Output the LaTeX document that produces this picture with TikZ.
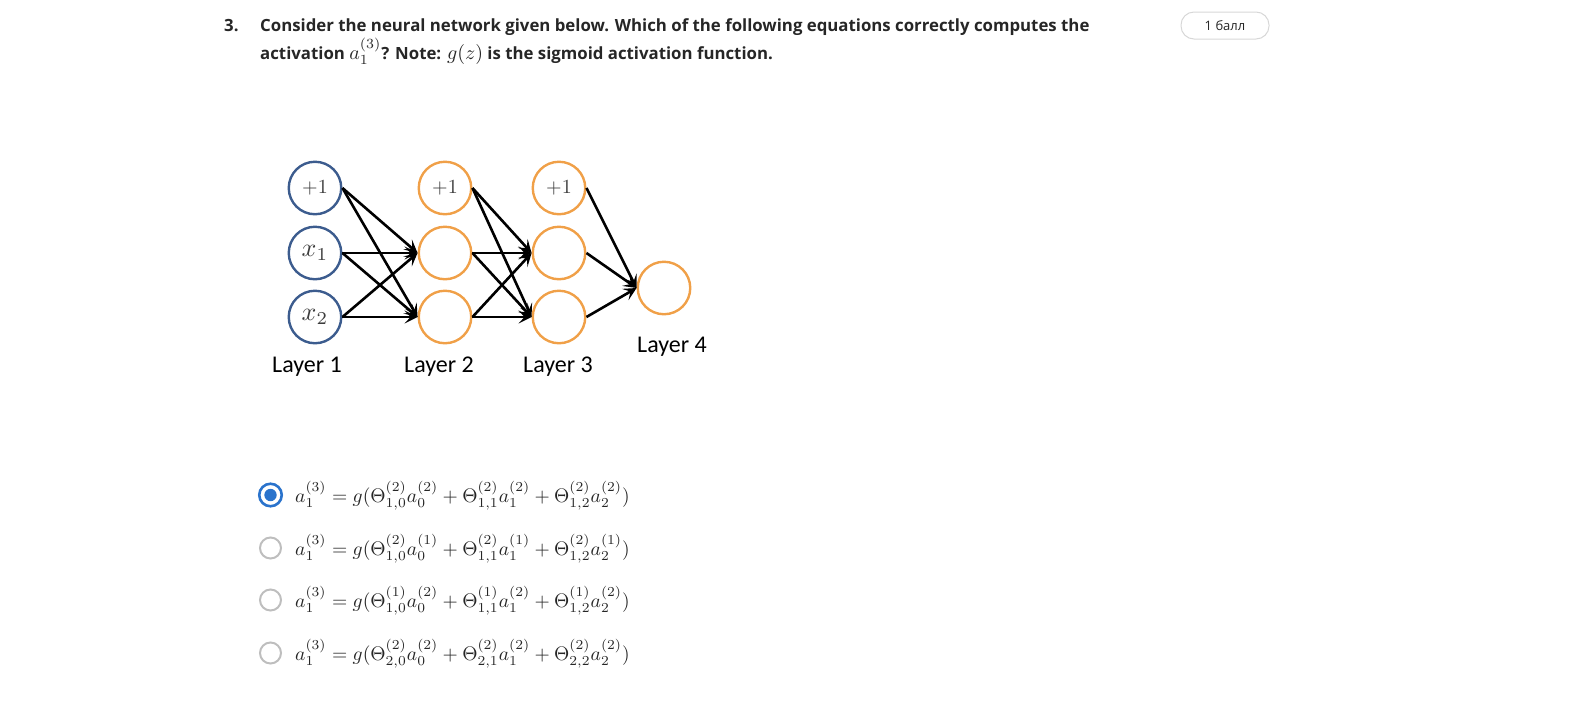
\documentclass[tikz,border=0pt]{standalone}
\usepackage{amsmath}
\usepackage{graphicx}
\usepackage{fontspec}
\setmainfont{Open Sans}
\newfontfamily\layerfont{Carlito}
\usetikzlibrary{arrows.meta,positioning}

\definecolor{inkgray}{RGB}{38,38,38}
\definecolor{netblue}{RGB}{60,92,142}
\definecolor{netorange}{RGB}{240,160,72}
\definecolor{nodetext}{RGB}{60,60,60}
\definecolor{radioblue}{RGB}{42,115,204}
\definecolor{radiogray}{RGB}{190,190,190}
\definecolor{pillgray}{RGB}{215,215,215}

% math at 10pt, scaled by #1
\newcommand{\mathat}[2]{\scalebox{#1}{\fontsize{10}{12}\selectfont$#2$}}

\begin{document}
\begin{tikzpicture}[x=1pt,y=-1pt,
    neuron/.style={draw,circle,line width=2.4pt,minimum size=52.5pt,inner sep=0pt,text=nodetext},
    inneuron/.style={neuron,draw=netblue},
    hidneuron/.style={neuron,draw=netorange},
    wire/.style={-{Stealth[length=13pt,width=13pt,inset=6pt]},line width=2.6pt},
    layerlab/.style={font=\layerfont\fontsize{24}{24}\selectfont,text=black},
    question/.style={anchor=base west,inner sep=0pt,text=inkgray,
      font=\bfseries\fontsize{16.8}{16.8}\selectfont},
    radiooff/.style={draw=radiogray,circle,line width=2pt,minimum size=21pt,inner sep=0pt},
    radioon/.style={draw=radioblue,circle,line width=2.6pt,minimum size=22.5pt,inner sep=0pt},
    answer/.style={anchor=base west,inner sep=0pt,text=inkgray}]
\useasboundingbox (0,0) rectangle (1572,705);

% question text
\node[question] (qnum) at (224,31.5) {3.};
\node[question] (qline1) at (260,31.5) {Consider the neural network given below. Which of the following equations correctly computes the};
\node[question] (qline2) at (260,59) {activation \mathat{2.0}{a_1^{(3)}}? Note: \mathat{2.0}{g(z)} is the sigmoid activation function.};
\node[draw=pillgray,line width=1pt,rounded corners=13pt,minimum width=88pt,minimum height=27pt,
  text=inkgray,font=\fontsize{13}{13}\selectfont] (points) at (1225,25.5) {1 балл};

% network
\node[inneuron] (b1) at (315,188) {\mathat{2.0}{+1}};
\node[inneuron] (x1) at (315,253) {\mathat{2.6}{x_1}};
\node[inneuron] (x2) at (315,317) {\mathat{2.6}{x_2}};
\node[hidneuron] (b2) at (445,188) {\mathat{2.0}{+1}};
\node[hidneuron] (h21) at (445,253) {};
\node[hidneuron] (h22) at (445,317) {};
\node[hidneuron] (b3) at (559,188) {\mathat{2.0}{+1}};
\node[hidneuron] (h31) at (559,253) {};
\node[hidneuron] (h32) at (559,317) {};
\node[hidneuron] (out) at (664,288) {};

\foreach \s in {b1,x1,x2}
  \foreach \t in {h21,h22}
    \draw[wire] (\s.east) -- (\t.west);
\foreach \s in {b2,h21,h22}
  \foreach \t in {h31,h32}
    \draw[wire] (\s.east) -- (\t.west);
\foreach \s in {b3,h31,h32}
  \draw[wire] (\s.east) -- (out.west);

\node[layerlab,anchor=base] (lay1) at (307,372) {Layer 1};
\node[layerlab,anchor=base] (lay2) at (439,372) {Layer 2};
\node[layerlab,anchor=base] (lay3) at (558,372) {Layer 3};
\node[layerlab,anchor=base] (lay4) at (672,352) {Layer 4};

% answer options
\node[radioon] (radio1) at (270.5,495) {};
\fill[radioblue] (radio1.center) circle (6.2);
\node[radiooff] (radio2) at (270.5,548) {};
\node[radiooff] (radio3) at (270.5,600) {};
\node[radiooff] (radio4) at (270.5,653) {};

\node[answer] (opt1) at (295,502) {\mathat{1.96}{a_1^{(3)} = g(\Theta_{1,0}^{(2)}a_0^{(2)} + \Theta_{1,1}^{(2)}a_1^{(2)} + \Theta_{1,2}^{(2)}a_2^{(2)})}};
\node[answer] (opt2) at (295,555) {\mathat{1.96}{a_1^{(3)} = g(\Theta_{1,0}^{(2)}a_0^{(1)} + \Theta_{1,1}^{(2)}a_1^{(1)} + \Theta_{1,2}^{(2)}a_2^{(1)})}};
\node[answer] (opt3) at (295,607) {\mathat{1.96}{a_1^{(3)} = g(\Theta_{1,0}^{(1)}a_0^{(2)} + \Theta_{1,1}^{(1)}a_1^{(2)} + \Theta_{1,2}^{(1)}a_2^{(2)})}};
\node[answer] (opt4) at (295,660) {\mathat{1.96}{a_1^{(3)} = g(\Theta_{2,0}^{(2)}a_0^{(2)} + \Theta_{2,1}^{(2)}a_1^{(2)} + \Theta_{2,2}^{(2)}a_2^{(2)})}};
\end{tikzpicture}
\end{document}
